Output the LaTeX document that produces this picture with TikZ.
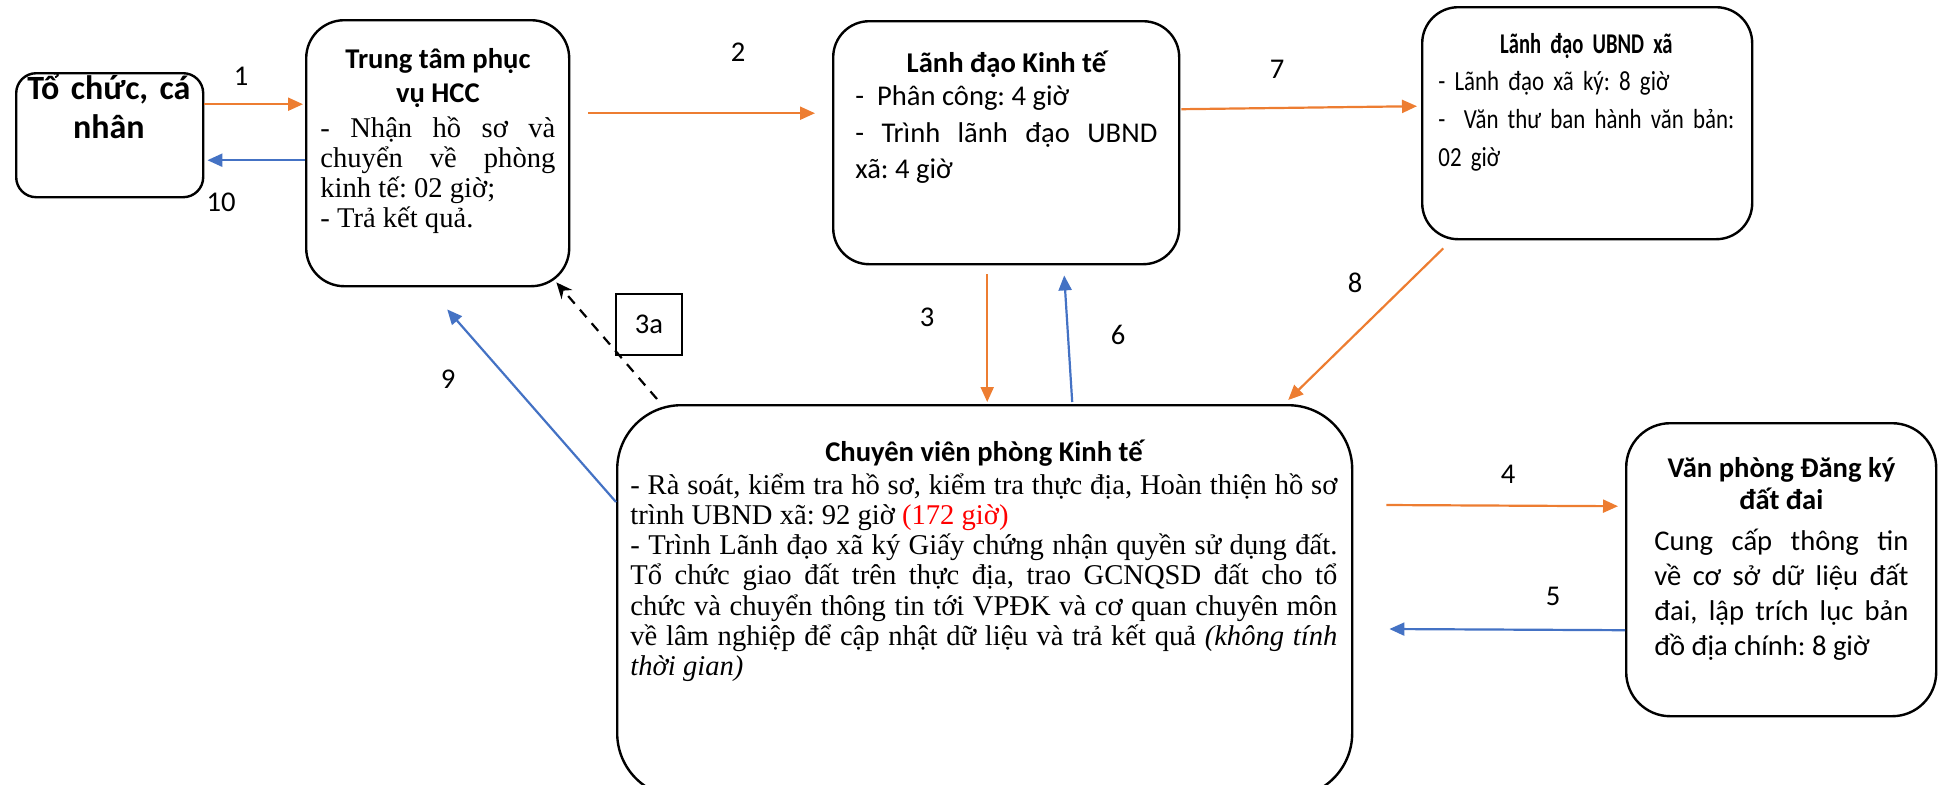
\documentclass[tikz,border=0pt]{standalone}
\usepackage{fontspec}
\setmainfont{Carlito}
\newfontfamily\timesf{Liberation Serif}
\newfontfamily\condf{Carlito}[FakeStretch=0.83]
\newfontfamily\condtf{Carlito}[FakeStretch=0.72]
\usepackage{tikz}
\usetikzlibrary{arrows.meta,positioning}
\definecolor{flowor}{HTML}{ED7D31}
\definecolor{flowbl}{HTML}{4472C4}

\newcommand\bodyc{\fontsize{14.3}{18.25}\selectfont}
\newcommand\bodyt{\timesf\fontsize{14.3}{15.1}\selectfont}
\newcommand\titlef{\bfseries\fontsize{14.3}{17}\selectfont}
\frenchspacing
\lineskiplimit=-20pt

\tikzset{
  box/.style={draw,line width=1.2pt,rounded corners=#1,inner sep=0pt,anchor=north west},
  boxtext/.style={inner sep=0pt,anchor=base west,text width=#1,align=justify},
  lbl/.style={inner sep=0pt,font=\bodyc},
  flow/.style={-{Triangle[length=7.5pt,width=6.5pt]},line width=1.1pt},
}

\begin{document}
\begin{tikzpicture}[x=0.5pt,y=-0.5pt]
  \useasboundingbox (0,0) rectangle (1944,784);

  % boxes
  \node[box=10pt,minimum width=93.5pt,minimum height=62pt] (org) at (15,72) {};
  \node[box=19pt,minimum width=131.5pt,minimum height=133pt] (hcc) at (305,19) {};
  \node[box=18pt,minimum width=173pt,minimum height=121.5pt] (kt) at (832,20) {};
  \node[box=18pt,minimum width=165pt,minimum height=116pt] (ubnd) at (1421,6) {};
  \node[box=32pt,minimum width=367.5pt,minimum height=196pt] (cv) at (616,404) {};
  \node[box=22pt,minimum width=155pt,minimum height=146.5pt] (vp) at (1625,422) {};
  \node[draw,line width=0.7pt,minimum width=33pt,minimum height=30.5pt,font=\bodyc] (b3a) at (649,324.5) {3a};

  % texts
  \node[boxtext=100pt,align=center,font=\bfseries\fontsize{17}{19.5}\selectfont] (orgt) at (8.5,99)
    {Tổ chức, cá\\nhân\par};
  \node[boxtext=117.5pt] (hcct) at (320,68)
    {{\centering\titlef Trung tâm phục\\vụ HCC\par}\vspace{2.4pt}%
     \bodyt\hyphenpenalty=10000
     - Nhận hồ sơ và\linebreak chuyển về phòng\linebreak kinh tế: 02 giờ;\par
     - Trả kết quả.\par};
  \node[boxtext=151pt] (ktt) at (855,72)
    {{\centering\titlef Lãnh đạo Kinh tế\par}\vspace{-1.5pt}%
     \bodyc\hyphenpenalty=10000
     -~~Phân công: 4 giờ\par
     - Trình lãnh đạo UBND\linebreak xã: 4 giờ\par};
  \node[boxtext=148pt,align=left,font=\condf\fontsize{13.8}{18.9}\selectfont] (ubndt) at (1438,53)
    {{\centering\condtf\bfseries\fontsize{14.3}{18.9}\selectfont Lãnh đạo UBND xã\par}
     \mbox{- Lãnh đạo xã ký: 8 giờ}\\
     \mbox{-~~Văn thư ban hành văn bản:}\\
     02 giờ\par};
  \node[boxtext=353.5pt] (cvt) at (630,461)
    {{\centering\titlef Chuyên viên phòng Kinh tế\par}\vspace{1.5pt}%
     \bodyt\hyphenpenalty=10000
     - Rà soát, kiểm tra hồ sơ, kiểm tra thực địa, Hoàn thiện hồ sơ\linebreak
     trình UBND xã: 92 giờ \textcolor{red}{(172 giờ)}\par
     - Trình Lãnh đạo xã ký Giấy chứng nhận quyền sử dụng đất.\linebreak
     Tổ chức giao đất trên thực địa, trao GCNQSD đất cho tổ\linebreak
     chức và chuyển thông tin tới VPĐK và cơ quan chuyên môn\linebreak
     về lâm nghiệp để cập nhật dữ liệu và trả kết quả \textit{(không tính\linebreak
     thời gian)}\par};
  \node[boxtext=127pt] (vpt) at (1654,477)
    {{\centering\bfseries\fontsize{14.3}{16}\selectfont Văn phòng Đăng ký\\đất đai\par}\vspace{3pt}%
     \fontsize{14.3}{17.5}\selectfont\hyphenpenalty=10000
     Cung cấp thông tin\linebreak về cơ sở dữ liệu đất\linebreak
     đai, lập trích lục bản\linebreak đồ địa chính: 8 giờ\par};

  % connectors
  \draw[flow,flowor] ([yshift=15.5pt]org.east) -- ([xshift=-1pt,yshift=24.5pt]hcc.west);
  \draw[flow,flowbl] ([yshift=-3.5pt]hcc.west) -- ([xshift=1.5pt,yshift=-12.5pt]org.east);
  \draw[flow,flowor] ([xshift=9pt,yshift=20pt]hcc.east) -- ([xshift=-8.5pt,yshift=14.75pt]kt.west);
  \draw[flow,flowor] ([xshift=0.5pt,yshift=16.75pt]kt.east) -- ([xshift=-2pt,yshift=8.5pt]ubnd.west);
  \draw[flow,flowor] ([xshift=-9.5pt,yshift=-4.5pt]kt.south) -- ([xshift=1.25pt,yshift=1pt]cv.north);
  \draw[flow,flowbl] ([xshift=43.75pt,yshift=1pt]cv.north) -- ([xshift=29pt,yshift=-5pt]kt.south);
  \draw[flow,flowor] ([xshift=-72pt,yshift=-4pt]ubnd.south) -- ([xshift=151.75pt,yshift=2pt]cv.north);
  \draw[flow,flowor] ([xshift=16.5pt,yshift=-50.5pt]cv.north east) -- ([xshift=-3.5pt,yshift=31.75pt]vp.west);
  \draw[flow,flowbl] ([yshift=-30.25pt]vp.west) -- ([xshift=18pt,yshift=-112.5pt]cv.north east);
  \draw[flow,flowbl] ([yshift=-49pt]cv.north west) -- ([xshift=4.75pt,yshift=-11pt]hcc.south);
  \draw[-{Stealth[length=8pt,width=7pt]},line width=1.1pt,dash pattern=on 5pt off 4pt]
    ([xshift=20.5pt,yshift=2.5pt]cv.north west) -- ([xshift=-7pt,yshift=2.5pt]hcc.south east);

  % step numbers
  \node[lbl] (l1) at (241,76) {1};
  \node[lbl] (l10) at (221,202) {10};
  \node[lbl] (l2) at (738,52) {2};
  \node[lbl] (l7) at (1277,69) {7};
  \node[lbl] (l3) at (927,317) {3};
  \node[lbl] (l6) at (1118,335) {6};
  \node[lbl] (l8) at (1355,283) {8};
  \node[lbl] (l4) at (1508,474) {4};
  \node[lbl] (l5) at (1553,596) {5};
  \node[lbl] (l9) at (448,379) {9};
\end{tikzpicture}
\end{document}
